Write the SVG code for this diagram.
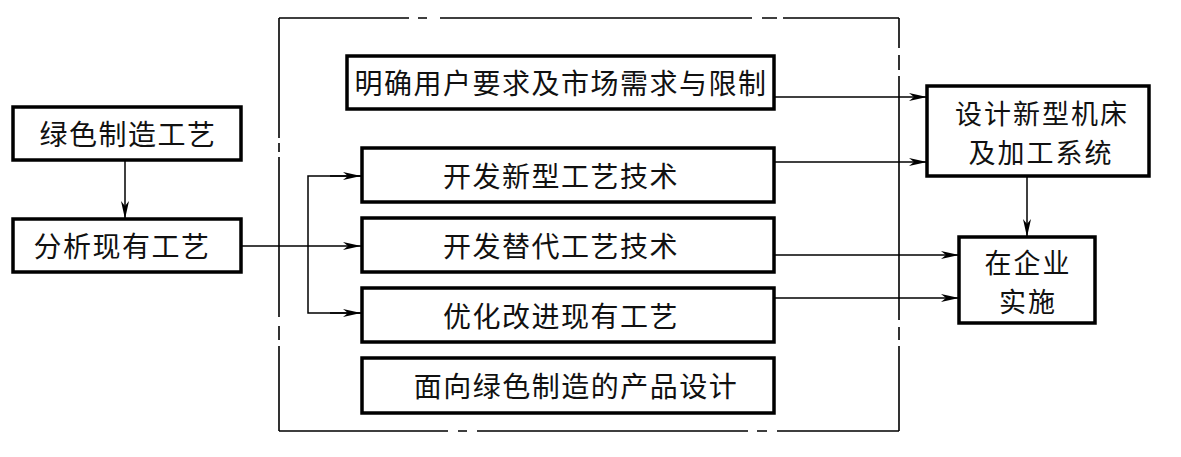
<svg xmlns="http://www.w3.org/2000/svg" width="1181" height="457" viewBox="0 0 1181 457">
<style>
.box{fill:#fff;stroke:#000;stroke-width:3.5}
.t{font-family:"Noto Sans CJK SC","Noto Sans CJK JP",sans-serif;font-size:28px;fill:#111;text-anchor:middle;dominant-baseline:central;letter-spacing:1.5px}
.t2{font-size:27px;letter-spacing:2px}
.c{fill:none;stroke:#000;stroke-width:1.5}
.o{fill:none;stroke:#000;stroke-width:1.6}
</style>
<defs>
<marker id="ah" markerUnits="userSpaceOnUse" viewBox="0 0 18 8" refX="18" refY="4" markerWidth="18" markerHeight="8" orient="auto">
<path d="M0,0 L18,4 L0,8 L5,4 z" fill="#000"/>
</marker>
</defs>
<rect width="1181" height="457" fill="#fff"/>
<g id="frame" class="o">
<path d="M279,18 H409 M418,18 H427 M440,18 H752 M762,18 H777 M783,18 H899"/>
<path d="M279,431 H448 M458,431 H467 M477,431 H748 M757,431 H767 M777,431 H899"/>
<path d="M279,18 V138 M279,143 V152 M279,157 V317 M279,326 V340 M279,346 V431"/>
<path d="M899,18 V48 M899,55 V70 M899,76 V320 M899,327 V340 M899,346 V431"/>
</g>
<g id="connectors" class="c">
<line x1="125" y1="160" x2="125" y2="219" marker-end="url(#ah)"/>
<line x1="241" y1="246" x2="361" y2="246" marker-end="url(#ah)"/>
<path d="M361,176 H308 V313 H361" fill="none"/>
<line x1="330" y1="176" x2="361" y2="176" marker-end="url(#ah)"/>
<line x1="330" y1="313" x2="361" y2="313" marker-end="url(#ah)"/>
<line x1="774" y1="97" x2="927" y2="97" marker-end="url(#ah)"/>
<line x1="774" y1="162" x2="927" y2="162" marker-end="url(#ah)"/>
<line x1="774" y1="255" x2="959" y2="255" marker-end="url(#ah)"/>
<line x1="774" y1="298" x2="959" y2="298" marker-end="url(#ah)"/>
<line x1="1027" y1="176" x2="1027" y2="237" marker-end="url(#ah)"/>
</g>
<g id="n1"><rect class="box" x="13" y="107" width="228" height="53"/><text class="t" x="128" y="133">绿色制造工艺</text></g>
<g id="n2"><rect class="box" x="13" y="219" width="228" height="53"/><text class="t" x="122" y="245">分析现有工艺</text></g>
<g id="n3"><rect class="box" x="347" y="56" width="427" height="53"/><text class="t" x="561" y="82">明确用户要求及市场需求与限制</text></g>
<g id="n4"><rect class="box" x="362" y="148" width="412" height="54"/><text class="t" x="561" y="175">开发新型工艺技术</text></g>
<g id="n5"><rect class="box" x="362" y="218" width="412" height="54"/><text class="t" x="561" y="245">开发替代工艺技术</text></g>
<g id="n6"><rect class="box" x="362" y="288" width="412" height="54"/><text class="t" x="561" y="315">优化改进现有工艺</text></g>
<g id="n7"><rect class="box" x="362" y="358" width="412" height="55"/><text class="t" x="576" y="385">面向绿色制造的产品设计</text></g>
<g id="n8"><rect class="box" x="927" y="86" width="222" height="90"/><text class="t t2" x="1042" y="112">设计新型机床</text><text class="t t2" x="1041" y="151">及加工系统</text></g>
<g id="n9"><rect class="box" x="959" y="237" width="136" height="86"/><text class="t t2" x="1028" y="261">在企业</text><text class="t t2" x="1028" y="300">实施</text></g>
</svg>
